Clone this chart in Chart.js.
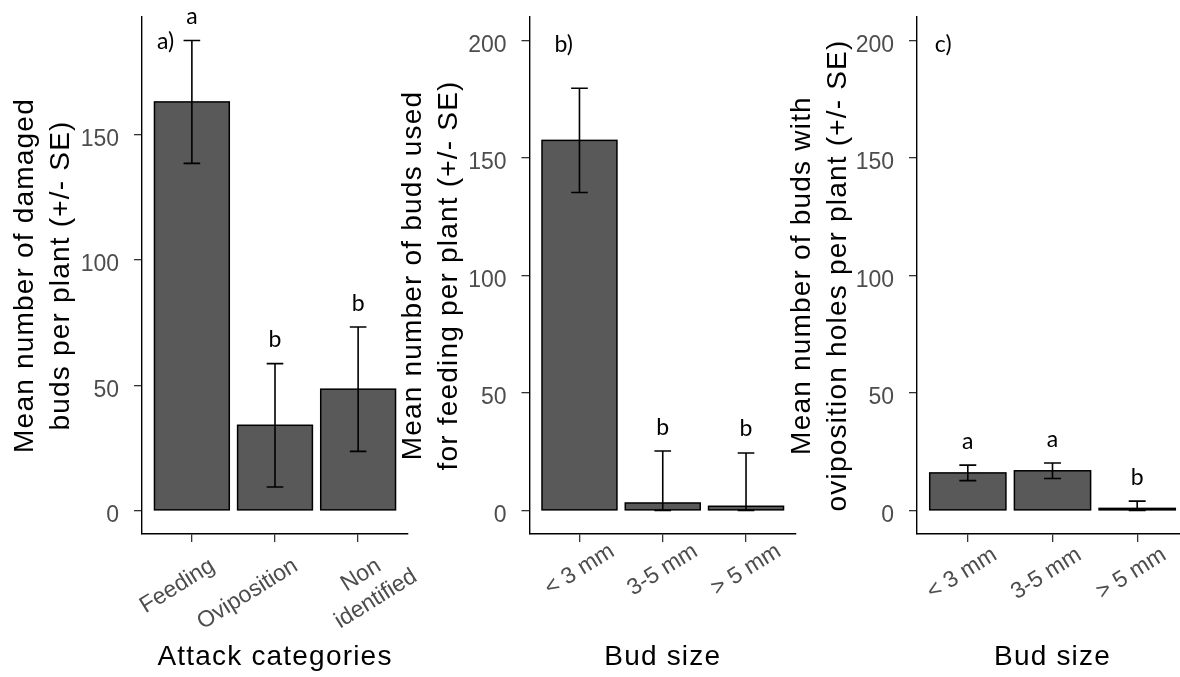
<!DOCTYPE html>
<html>
<head>
<meta charset="utf-8">
<script src="https://cdn.jsdelivr.net/npm/chart.js@4.4.1/dist/chart.umd.min.js"></script>
<style>
  html, body { margin: 0; padding: 0; background: #fff; overflow: hidden; }
  #wrap { position: relative; width: 1180px; height: 677px; overflow: hidden; }
  canvas { position: absolute; left: 0; top: 0; }
</style>
</head>
<body>
<div id="wrap">
  <canvas id="chartA" width="1200" height="677"></canvas>
  <canvas id="chartB" width="1200" height="677"></canvas>
  <canvas id="chartC" width="1200" height="677"></canvas>
</div>
<script>
// a) damaged buds per attack category
const attackCategories = ['Feeding', 'Oviposition', ['Non', 'identified']];
const attackMeans = [163, 34, 48.4];
const attackSE = [24.5, 24.6, 24.8];
const attackLetters = ['a', 'b', 'b'];

// b) buds used for feeding, by bud size
const budSizes = ['< 3 mm', '3-5 mm', '> 5 mm'];
const feedingMeans = [157.5, 3.2, 1.8];
const feedingSE = [22.2, 22.1, 22.7];
const feedingLetters = ['', 'b', 'b'];

// c) buds with oviposition holes, by bud size
const ovipMeans = [16.0, 16.9, 0.9];
const ovipSE = [3.3, 3.3, 3.1];
const ovipLetters = ['a', 'a', 'b'];

const yTicks = [0, 50, 100, 150, 200];
const fixedLimits = [0, 200];   // panels b and c share these limits

const CANVAS_W = 1200, CANVAS_H = 677;
const PLOT_TOP = 17, PLOT_BOTTOM = 534;
const SANS = "'Liberation Sans', Arial, sans-serif";
const LETTER_FONT = "23px Lato, 'Open Sans', sans-serif";

// bar outlines, error bars, significance letters, panel tag and the rotated x labels
const extrasPlugin = {
  id: 'extras',
  afterDatasetsDraw(chart, args, o) {
    const {ctx, scales: {x, y}} = chart;
    ctx.save();

    // outline drawn on the bar edges (ggplot style), so thin bars turn into a black line
    ctx.strokeStyle = '#000';
    ctx.lineWidth = 1.5;
    chart.getDatasetMeta(0).data.forEach(bar => {
      const {x: bx, y: by, base, width} = bar.getProps(['x', 'y', 'base', 'width'], true);
      ctx.strokeRect(bx - width / 2, Math.min(by, base), width, Math.abs(base - by));
    });

    ctx.lineWidth = 1.6;
    o.means.forEach((m, i) => {
      const hi = m + o.se[i];
      const lo = Math.max(0, m - o.se[i]);
      const cx = x.getPixelForValue(i);
      const half = (x.getPixelForValue(i + 0.1) - x.getPixelForValue(i - 0.1)) / 2;
      const yHi = y.getPixelForValue(hi);
      const yLo = y.getPixelForValue(lo);
      ctx.beginPath();
      ctx.moveTo(cx, yHi); ctx.lineTo(cx, yLo);
      ctx.moveTo(cx - half, yHi); ctx.lineTo(cx + half, yHi);
      ctx.moveTo(cx - half, yLo); ctx.lineTo(cx + half, yLo);
      ctx.stroke();
      if (o.letters[i]) {
        ctx.fillStyle = '#000';
        ctx.font = LETTER_FONT;
        ctx.textAlign = 'center';
        ctx.textBaseline = 'alphabetic';
        ctx.fillText(o.letters[i], cx, yHi - 16.5);
      }
    });

    // panel tag
    ctx.fillStyle = '#000';
    ctx.font = LETTER_FONT;
    ctx.textAlign = 'left';
    ctx.textBaseline = 'alphabetic';
    ctx.fillText(o.tag, x.getPixelForValue(o.tagAt[0]), y.getPixelForValue(o.tagAt[1]));

    // x tick labels, rotated
    const rot = -32 * Math.PI / 180;
    ctx.font = '23px ' + SANS;
    ctx.fillStyle = '#4D4D4D';
    ctx.textAlign = 'right';
    o.labels.forEach((lab, i) => {
      const lines = Array.isArray(lab) ? lab : [lab];
      const w0 = ctx.measureText(lines[0]).width;
      ctx.save();
      ctx.translate(x.getPixelForValue(i), x.top + 8);
      ctx.rotate(rot);
      lines.forEach((ln, k) => {
        const w = ctx.measureText(ln).width;
        ctx.fillText(ln, o.labelU - (w0 - w) / 2, o.labelV + k * 28);
      });
      ctx.restore();
    });
    ctx.restore();
  }
};

function yRange(means, se, limits) {
  const lo = limits ? limits[0] : 0;
  const hi = limits ? limits[1] : Math.max(...means.map((m, i) => m + se[i]));
  const pad = (hi - lo) * 0.05;
  return [lo - pad, hi + pad];
}

function noEdgePadding(s) {
  s.paddingTop = 0; s.paddingBottom = 0; s.paddingLeft = 0; s.paddingRight = 0;
}

// axis titles in the reference are set a little wider than plain Arial
function spacedTitle(s) {
  if (s._spaced) return;
  s._spaced = true;
  const draw = s.drawTitle;
  s.drawTitle = function () {
    this.ctx.save();
    this.ctx.letterSpacing = '1.2px';
    draw.call(this);
    this.ctx.restore();
  };
}

function makePanel(p) {
  const [yMin, yMax] = yRange(p.means, p.se, p.limits);
  return new Chart(document.getElementById(p.id), {
    type: 'bar',
    data: {
      datasets: [{
        data: p.means.map((m, i) => ({x: i, y: m})),
        backgroundColor: '#595959',
        borderWidth: 0,
        inflateAmount: 0,
        categoryPercentage: 0.9,
        barPercentage: 1.0
      }]
    },
    options: {
      responsive: false,
      animation: false,
      devicePixelRatio: 1,
      events: [],
      layout: { padding: { left: p.left, right: CANVAS_W - p.right, top: PLOT_TOP, bottom: 0 } },
      plugins: {
        legend: { display: false },
        tooltip: { enabled: false },
        extras: p
      },
      scales: {
        x: {
          type: 'linear',
          offset: false,
          min: -0.6,
          max: p.means.length - 0.4,
          afterBuildTicks: s => { s.ticks = p.means.map((_, i) => ({value: i})); },
          afterFit: s => { s.height = CANVAS_H - PLOT_BOTTOM; noEdgePadding(s); spacedTitle(s); },
          ticks: { display: false },
          grid: { offset: false, drawOnChartArea: false, drawTicks: true, tickLength: 8, color: '#333', lineWidth: 1.3 },
          border: { display: true, color: '#000', width: 1.4 },
          title: {
            display: true, text: p.xTitle, color: '#000',
            font: { family: SANS, size: 28, lineHeight: 1 },
            padding: { top: 0, bottom: 5.5 }
          }
        },
        y: {
          min: yMin,
          max: yMax,
          afterBuildTicks: s => { s.ticks = yTicks.filter(v => v >= yMin && v <= yMax).map(v => ({value: v})); },
          afterFit: s => { s.width = p.axisX - p.left; noEdgePadding(s); spacedTitle(s); },
          ticks: { color: '#4D4D4D', font: { family: SANS, size: 23 }, padding: 15, labelOffset: 5 },
          grid: { drawOnChartArea: false, drawTicks: true, tickLength: 8, color: '#333', lineWidth: 1.3 },
          border: { display: true, color: '#000', width: 1.4 },
          title: {
            display: true, text: p.yTitle, color: '#000',
            font: { family: SANS, size: 28, lineHeight: 1.304 },
            padding: { top: 2, bottom: 0 }
          }
        }
      }
    },
    plugins: [extrasPlugin]
  });
}

const panels = [
  { id: 'chartA', labels: attackCategories, means: attackMeans, se: attackSE, letters: attackLetters,
    limits: null, tag: 'a)', tagAt: [-0.42, 184],
    left: 5, axisX: 142, right: 408, labelU: 6, labelV: 36,
    yTitle: ['Mean number of damaged', 'buds per plant (+/- SE)'], xTitle: 'Attack categories' },
  { id: 'chartB', labels: budSizes, means: feedingMeans, se: feedingSE, letters: feedingLetters,
    limits: fixedLimits, tag: 'b)', tagAt: [-0.3, 195],
    left: 393, axisX: 529.5, right: 796, labelU: 24, labelV: 30,
    yTitle: ['Mean number of buds used', 'for feeding per plant (+/- SE)'], xTitle: 'Bud size' },
  { id: 'chartC', labels: budSizes, means: ovipMeans, se: ovipSE, letters: ovipLetters,
    limits: fixedLimits, tag: 'c)', tagAt: [-0.39, 195],
    left: 782, axisX: 917, right: 1188, labelU: 17, labelV: 30,
    yTitle: ['Mean number of buds with', 'oviposition holes per plant (+/- SE)'], xTitle: 'Bud size' }
];

panels.forEach(makePanel);
</script>
</body>
</html>
